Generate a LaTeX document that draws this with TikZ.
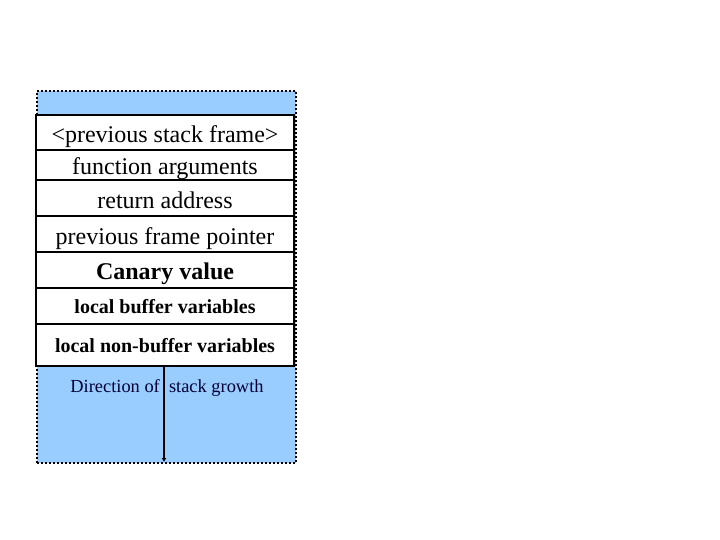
\documentclass[tikz,border=0pt]{standalone}
\usepackage{fontspec}
\setmainfont{Liberation Serif}
\usetikzlibrary{arrows.meta}
\definecolor{stackblue}{RGB}{153,204,255}
\definecolor{navytext}{RGB}{0,0,51}
\begin{document}
\begin{tikzpicture}[x=1pt,y=-1pt,
  cell/.style={draw=black,fill=white,line width=2pt,minimum width=258pt,inner sep=0pt,anchor=north west,outer sep=0pt},
  normtxt/.style={font=\fontsize{24}{26}\selectfont,text height=20pt,text depth=0pt},
  boldbig/.style={font=\fontsize{24}{26}\selectfont\bfseries,text height=19pt,text depth=1pt},
  boldsmall/.style={font=\fontsize{20}{22}\selectfont\bfseries,text height=15pt,text depth=0pt}]
\useasboundingbox (0,0) rectangle (720,540);
\node[draw=black,fill=stackblue,line width=2pt,dotted,anchor=north west,minimum width=259pt,minimum height=372pt,inner sep=0pt] (frame) at (36,90) {};
\node[cell,normtxt,minimum height=35pt] (r1) at (36,115) {<previous stack frame>};
\node[cell,normtxt,minimum height=30pt] (r2) at (36,150) {function arguments};
\node[cell,normtxt,minimum height=36pt] (r3) at (36,180) {return address};
\node[cell,normtxt,minimum height=36pt] (r4) at (36,216) {previous frame pointer};
\node[cell,boldbig,minimum height=36pt] (r5) at (36,252) {Canary value};
\node[cell,boldsmall,minimum height=36pt] (r6) at (36,288) {local buffer variables};
\node[cell,boldsmall,minimum height=42pt] (r7) at (36,324) {local non-buffer variables};
\node[text=navytext,font=\fontsize{18.4}{20}\selectfont,anchor=center] (dir) at (167,388) {Direction of\ \ stack growth};
\coordinate (bot) at (164,462);
\draw[line width=2pt,-{Latex[length=4pt,width=5pt]}] (r7.south -| bot) -- (bot);
\end{tikzpicture}
\end{document}
